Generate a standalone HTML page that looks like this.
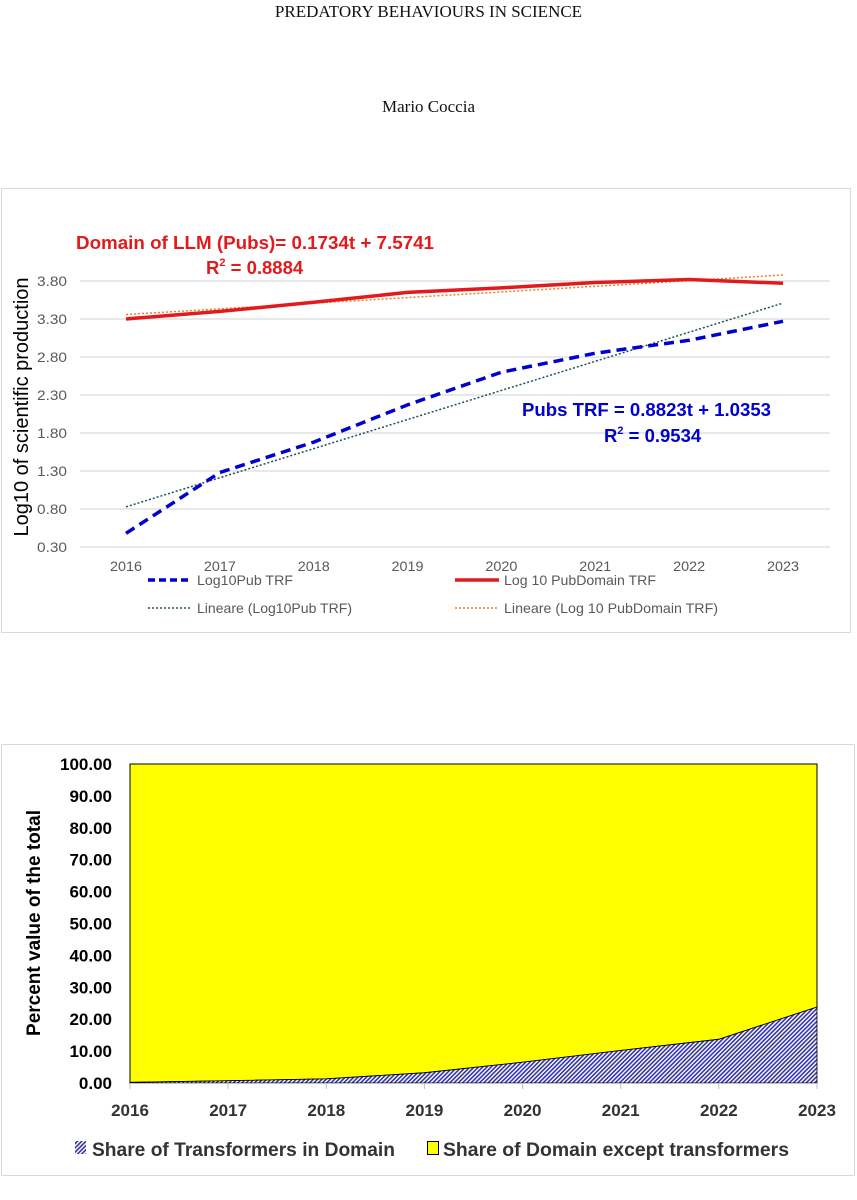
<!DOCTYPE html>
<html><head><meta charset="utf-8"><style>
body{margin:0;width:857px;height:1200px;background:#fff;overflow:hidden;font-family:"Liberation Sans",sans-serif}
.t{position:absolute;width:857px;text-align:center;font-family:"Liberation Serif",serif;font-size:17px;color:#111}
</style></head><body>
<div class="t" style="top:2px">PREDATORY BEHAVIOURS IN SCIENCE</div>
<div class="t" style="top:97px">Mario Coccia</div>
<svg id="c1" width="857" height="640" style="position:absolute;left:0;top:0"></svg>
<svg id="c2" width="857" height="1200" style="position:absolute;left:0;top:0"></svg>
<script>
const years=[2016,2017,2018,2019,2020,2021,2022,2023];
const pubTRF=[0.48,1.28,1.68,2.17,2.60,2.85,3.02,3.27];
const pubDomain=[3.30,3.40,3.52,3.65,3.71,3.78,3.82,3.77];
const yTicks1=[0.30,0.80,1.30,1.80,2.30,2.80,3.30,3.80];
const shareTRF=[0.2,0.7,1.3,3.2,6.5,10.2,13.7,23.8];
const yTicks2=[0,10,20,30,40,50,60,70,80,90,100];
const NS='http://www.w3.org/2000/svg';
function mk(p,t,a,txt){const e=document.createElementNS(NS,t);for(const k in a)e.setAttribute(k,a[k]);if(txt!==undefined)e.textContent=txt;p.appendChild(e);return e;}
function fit(v){const n=v.length;let sx=0,sy=0,sxy=0,sxx=0;v.forEach((y,i)=>{sx+=i;sy+=y;sxy+=i*y;sxx+=i*i});const b=(n*sxy-sx*sy)/(n*sxx-sx*sx);const a=(sy-b*sx)/n;return v.map((_,i)=>a+b*i);}
// chart 1
const s1=document.getElementById('c1');
let r=mk(s1,'rect',{x:1.5,y:188.5,width:849,height:444,fill:'#fff',stroke:'#d9d9d9'});

const x1=i=>126+i*(783-126)/7, y1=v=>547-(v-0.30)*(266/3.5);
yTicks1.forEach(t=>{let l=mk(s1,'line',{x1:80,x2:830,y1:y1(t),y2:y1(t),stroke:'#d9d9d9','stroke-width':1.3});
let tx=mk(s1,'text',{x:67,y:y1(t)+5,'text-anchor':'end','font-size':14,fill:'#595959',textLength:30,lengthAdjust:'spacingAndGlyphs'},t.toFixed(2));});
years.forEach((yr,i)=>{let tx=mk(s1,'text',{x:x1(i),y:571,'text-anchor':'middle','font-size':14,fill:'#595959',textLength:32,lengthAdjust:'spacingAndGlyphs'},yr);});
let yt=mk(s1,'text',{transform:'translate(28,407) rotate(-90)','text-anchor':'middle','font-size':20,fill:'#000'},'Log10 of scientific production');
const pts=(v,fx,fy)=>v.map((y,i)=>fx(i)+','+fy(y)).join(' ');
let p;
p=mk(s1,'polyline',{points:pts(fit(pubDomain),x1,y1),fill:'none',stroke:'#ed7d31','stroke-width':1.5,'stroke-dasharray':'2 2'});
p=mk(s1,'polyline',{points:pts(fit(pubTRF),x1,y1),fill:'none',stroke:'#1f4e5f','stroke-width':1.5,'stroke-dasharray':'2 2'});
p=mk(s1,'polyline',{points:pts(pubDomain,x1,y1),fill:'none',stroke:'#e31a1c','stroke-width':3.5});
p=mk(s1,'polyline',{points:pts(pubTRF,x1,y1),fill:'none',stroke:'#0000d0','stroke-width':3.5,'stroke-dasharray':'10 6'});
let a=mk(s1,'text',{x:76,y:249,'font-size':18.5,'font-weight':'bold',fill:'#e31a1c',textLength:358,lengthAdjust:'spacingAndGlyphs'},'Domain of LLM (Pubs)= 0.1734t + 7.5741');
a=mk(s1,'text',{x:206,y:274,'font-size':18.5,'font-weight':'bold',fill:'#e31a1c'});a.innerHTML='R<tspan font-size="11" dy="-8">2</tspan><tspan dy="8"> = 0.8884</tspan>';
a=mk(s1,'text',{x:522,y:416,'font-size':18.5,'font-weight':'bold',fill:'#0000d0',textLength:249,lengthAdjust:'spacingAndGlyphs'},'Pubs TRF = 0.8823t + 1.0353');
a=mk(s1,'text',{x:604,y:442,'font-size':18.5,'font-weight':'bold',fill:'#0000d0'});a.innerHTML='R<tspan font-size="11" dy="-8">2</tspan><tspan dy="8"> = 0.9534</tspan>';
const leg=[[148,580,'#0000d0',3.5,'7 4','Log10Pub TRF',96],[455,580,'#e31a1c',3.5,'','Log 10 PubDomain TRF',152],[148,608,'#1f4e5f',1.5,'2 2','Lineare (Log10Pub TRF)',155],[455,608,'#ed7d31',1.5,'2 2','Lineare (Log 10 PubDomain TRF)',214]];
leg.forEach(L=>{let g=mk(s1,'g',{});
mk(g,'line',{x1:L[0],x2:L[0]+44,y1:L[1],y2:L[1],stroke:L[2],'stroke-width':L[3],'stroke-dasharray':L[4]});
mk(g,'text',{x:L[0]+49,y:L[1]+5,'font-size':14,fill:'#595959',textLength:L[6],lengthAdjust:'spacingAndGlyphs'},L[5]);});
// chart 2
const s2=document.getElementById('c2');
r=mk(s2,'rect',{x:1.5,y:744.5,width:853,height:431,fill:'#fff',stroke:'#d9d9d9'});
const d=mk(s2,'defs',{});const pat=mk(d,'pattern',{id:'hatch',width:3,height:3,patternUnits:'userSpaceOnUse',patternTransform:'rotate(45)'});
mk(pat,'rect',{width:3,height:3,fill:'#fff'});mk(pat,'rect',{width:1.6,height:3,fill:'#3333aa'});
const x2=i=>130+i*(817-130)/7, y2=v=>1083-v*3.19;
let ar=mk(s2,'polygon',{points:x2(0)+','+y2(100)+' '+x2(7)+','+y2(100)+' '+shareTRF.map((v,i)=>x2(i)+','+y2(v)).reverse().join(' '),fill:'#ffff00',stroke:'#000','stroke-width':1});
ar=mk(s2,'polygon',{points:shareTRF.map((v,i)=>x2(i)+','+y2(v)).join(' ')+' '+x2(7)+','+y2(0)+' '+x2(0)+','+y2(0),fill:'url(#hatch)',stroke:'#000','stroke-width':0.8});
let ax=mk(s2,'line',{x1:129,x2:818,y1:y2(0)+.5,y2:y2(0)+.5,stroke:'#bfbfbf','stroke-width':1});
yTicks2.forEach(t=>{let tx=mk(s2,'text',{x:112,y:y2(t)+6,'text-anchor':'end','font-size':17,'font-weight':'bold',fill:'#000'},t.toFixed(2));});
years.forEach((yr,i)=>{mk(s2,'line',{x1:x2(i),x2:x2(i),y1:y2(0),y2:y2(0)+6,stroke:'#bfbfbf'});let tx=mk(s2,'text',{x:x2(i),y:1116,'text-anchor':'middle','font-size':17,'font-weight':'bold',fill:'#333'},yr);});
yt=mk(s2,'text',{transform:'translate(40,923) rotate(-90)','text-anchor':'middle','font-size':19,'font-weight':'bold',fill:'#000'},'Percent value of the total');
let g=mk(s2,'g',{});
mk(g,'rect',{x:75,y:1141,width:11,height:13,fill:'url(#hatch)'});mk(g,'text',{x:92,y:1156,'font-size':19,fill:'#333','font-weight':'bold',textLength:303,lengthAdjust:'spacingAndGlyphs'},'Share of Transformers in Domain');
g=mk(s2,'g',{});
mk(g,'rect',{x:427.5,y:1141.5,width:11,height:13,fill:'#ffff00',stroke:'#000'});mk(g,'text',{x:443,y:1156,'font-size':19,fill:'#333','font-weight':'bold',textLength:346,lengthAdjust:'spacingAndGlyphs'},'Share of Domain except transformers');
</script>
</body></html>
